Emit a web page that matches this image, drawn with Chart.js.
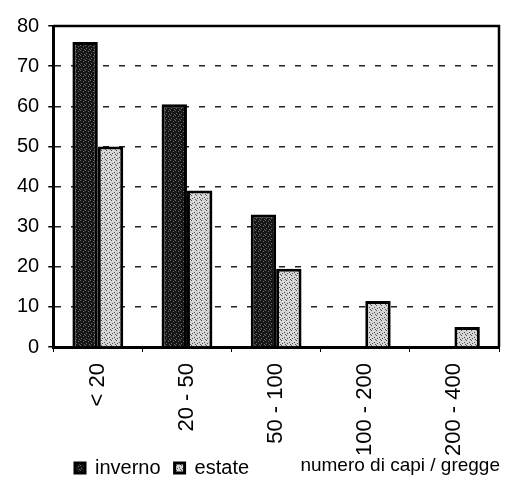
<!DOCTYPE html>
<html>
<head>
<meta charset="utf-8">
<script src="https://cdn.jsdelivr.net/npm/chart.js@4/dist/chart.umd.min.js"></script>
<style>
  html, body { margin: 0; padding: 0; background: #fff; }
  #wrap { width: 509px; height: 479px; }
</style>
</head>
<body>
<div id="wrap"><canvas id="chart"></canvas></div>
<script>
const categories = ['< 20', '20 - 50', '50 - 100', '100 - 200', '200 - 400'];
const inverno = [76, 60.5, 33, 0, 0];
const estate = [50, 39, 19.5, 11.5, 5];
const yTicks = [0, 10, 20, 30, 40, 50, 60, 70, 80];
const axisTitle = 'numero di capi / gregge';

const FONT = '"Liberation Sans", Arial, sans-serif';
const X_SHRINK = 32;

// small stippled fill, like the printed shading
function stipple(base, dot, spots) {
  const c = document.createElement('canvas');
  c.width = 5; c.height = 5;
  const g = c.getContext('2d');
  g.fillStyle = base;
  g.fillRect(0, 0, 5, 5);
  g.fillStyle = dot;
  spots.forEach(([x, y]) => g.fillRect(x, y, 1, 1));
  return g.createPattern(c, 'repeat');
}
const darkFill = stipple('#161616', '#6a6a6a', [[0, 0], [3, 1], [1, 3], [4, 4]]);
const lightFill = stipple('#d6d6d6', '#505050', [[1, 0], [4, 2], [2, 3], [0, 4]]);

// frame round the plot, legend shifted, axis title on the legend row
const framePlugin = {
  id: 'frame',
  afterLayout(chart) {
    const lg = chart.legend;
    if (lg) { lg.left += 53; lg.top += 9; lg.bottom += 9; }
    chart.scales.x.bottom += X_SHRINK;
  },
  afterDraw(chart) {
    const { ctx, chartArea: a } = chart;
    ctx.save();
    ctx.strokeStyle = '#000';
    ctx.lineWidth = 2.5;
    ctx.beginPath();
    ctx.moveTo(a.left, a.top);
    ctx.lineTo(a.right, a.top);
    ctx.lineTo(a.right, a.bottom);
    ctx.stroke();
    const lg = chart.legend;
    ctx.fillStyle = '#000';
    ctx.font = '19px ' + FONT;
    ctx.textAlign = 'right';
    ctx.textBaseline = 'middle';
    ctx.fillText(axisTitle, a.right + 1, lg.top + lg.height / 2);
    ctx.restore();
  }
};

new Chart(document.getElementById('chart'), {
  type: 'bar',
  data: {
    labels: categories,
    datasets: [
      { label: 'inverno', data: inverno, backgroundColor: darkFill, borderColor: '#000', borderWidth: 3 },
      { label: 'estate', data: estate, backgroundColor: lightFill, borderColor: '#000', borderWidth: 3 }
    ]
  },
  options: {
    responsive: true, maintainAspectRatio: false, animation: false,
    layout: { padding: { top: 26, left: 8, right: 10, bottom: 0 } },
    datasets: { bar: { categoryPercentage: 0.57, barPercentage: 1.0 } },
    plugins: {
      legend: {
        position: 'bottom', align: 'start',
        labels: { boxWidth: 10, boxHeight: 10, padding: 14, color: '#000', font: { family: FONT, size: 20 } }
      },
      tooltip: { enabled: false }
    },
    scales: {
      x: {
        afterFit(scale) { scale.height -= X_SHRINK; },
        grid: { display: true, drawOnChartArea: false, tickLength: 5, color: '#000', lineWidth: 1 },
        border: { display: true, color: '#000', width: 3 },
        ticks: { minRotation: 90, maxRotation: 90, padding: 11, color: '#000', font: { family: FONT, size: 22 } }
      },
      y: {
        min: 0, max: 80,
        afterBuildTicks(scale) { scale.ticks = yTicks.map(v => ({ value: v })); },
        grid: {
          color: ctx => (ctx.tick && (ctx.tick.value === 0 || ctx.tick.value === 80)) ? 'rgba(0,0,0,0)' : '#222',
          lineWidth: 1.5, tickLength: 5, tickColor: '#000'
        },
        border: { display: true, color: '#000', width: 3, dash: [6, 10] },
        ticks: { padding: 9, color: '#000', font: { family: FONT, size: 20 } }
      }
    }
  },
  plugins: [framePlugin]
});
</script>
</body>
</html>
